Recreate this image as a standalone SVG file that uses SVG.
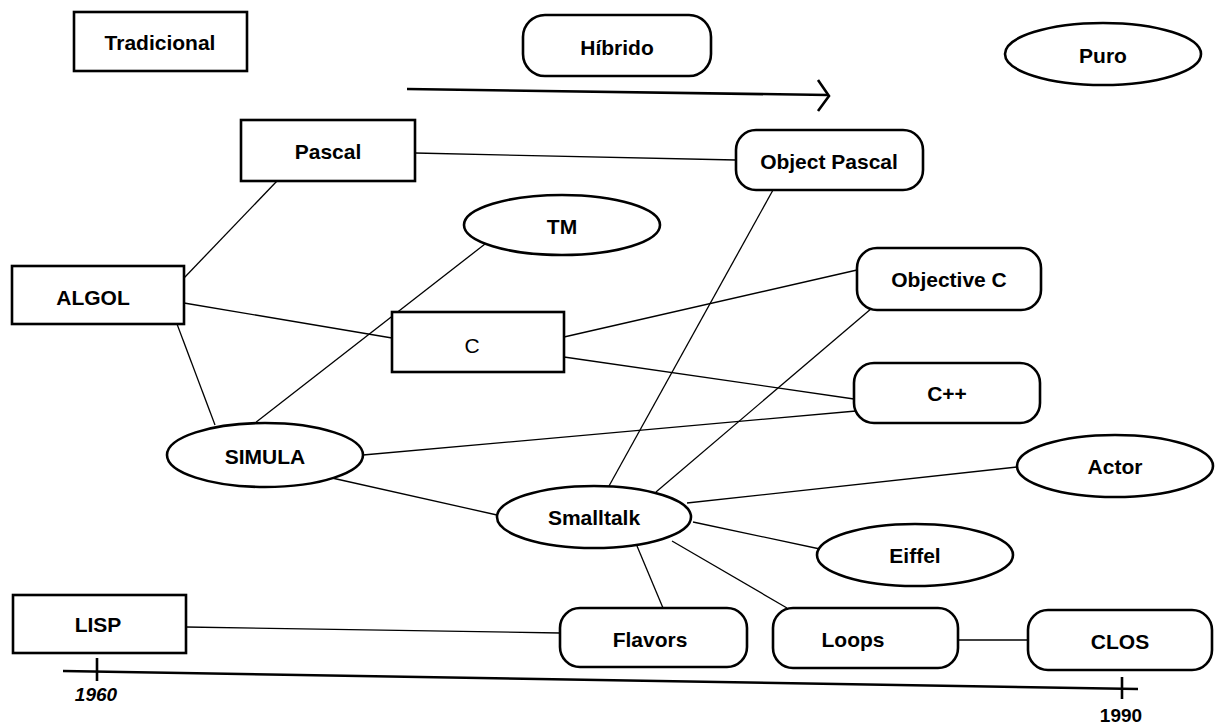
<svg xmlns="http://www.w3.org/2000/svg" width="1221" height="726" viewBox="0 0 1221 726">
  <style>
    .box { fill: #fff; stroke: #000; stroke-width: 2.6; }
    .lnk { fill: none; stroke: #000; stroke-width: 1.3; }
    .axis { fill: none; stroke: #000; stroke-width: 2.6; }
    .lbl { font-family: "Liberation Sans", Arial, sans-serif; font-weight: bold; font-size: 21px; text-anchor: middle; dominant-baseline: central; fill: #000; }
    .lbl.plain { font-weight: normal; }
    .yr { font-family: "Liberation Sans", Arial, sans-serif; font-weight: bold; font-size: 19px; text-anchor: middle; dominant-baseline: central; fill: #000; }
    .yr.it { font-style: italic; }
  </style>
  <rect width="1221" height="726" fill="#fff"/>

  <!-- legend -->
  <g id="legend-tradicional">
    <rect class="box" x="74" y="12" width="173" height="59"/>
    <text class="lbl" x="160" y="42">Tradicional</text>
  </g>
  <g id="legend-hibrido">
    <rect class="box" x="523" y="15" width="188" height="61" rx="22"/>
    <text class="lbl" x="617" y="47">Híbrido</text>
  </g>
  <g id="legend-puro">
    <ellipse class="box" cx="1103" cy="54" rx="98" ry="31"/>
    <text class="lbl" x="1103" y="55">Puro</text>
  </g>
  <g id="legend-arrow">
    <line class="axis" x1="407" y1="89" x2="828" y2="95" stroke-width="2.2"/>
    <polyline class="axis" points="818,80 829,96 818,111" stroke-width="2.4"/>
  </g>

  <!-- connectors -->
  <g id="connectors">
    <line class="lnk" x1="415" y1="153" x2="736" y2="160"/>
    <line class="lnk" x1="277" y1="181" x2="184" y2="278"/>
    <line class="lnk" x1="184" y1="303" x2="392" y2="338"/>
    <line class="lnk" x1="177" y1="324" x2="215" y2="425"/>
    <line class="lnk" x1="255" y1="423" x2="485" y2="244"/>
    <line class="lnk" x1="564" y1="337" x2="857" y2="270"/>
    <line class="lnk" x1="564" y1="357" x2="854" y2="399"/>
    <line class="lnk" x1="363" y1="455" x2="856" y2="411"/>
    <line class="lnk" x1="332" y1="478" x2="497" y2="515"/>
    <line class="lnk" x1="773" y1="190" x2="609" y2="486"/>
    <line class="lnk" x1="872" y1="308" x2="656" y2="492"/>
    <line class="lnk" x1="687" y1="503" x2="1017" y2="467"/>
    <line class="lnk" x1="693" y1="522" x2="820" y2="549"/>
    <line class="lnk" x1="637" y1="546" x2="663" y2="608"/>
    <line class="lnk" x1="672" y1="541" x2="787" y2="608"/>
    <line class="lnk" x1="186" y1="627" x2="560" y2="633"/>
    <line class="lnk" x1="958" y1="640" x2="1028" y2="640"/>
  </g>

  <!-- languages -->
  <g id="node-pascal">
    <rect class="box" x="241" y="120" width="174" height="61"/>
    <text class="lbl" x="328" y="151">Pascal</text>
  </g>
  <g id="node-object-pascal">
    <rect class="box" x="736" y="130" width="187" height="60" rx="20"/>
    <text class="lbl" x="829" y="161">Object Pascal</text>
  </g>
  <g id="node-tm">
    <ellipse class="box" cx="562" cy="225" rx="98" ry="30"/>
    <text class="lbl" x="562" y="226">TM</text>
  </g>
  <g id="node-algol">
    <rect class="box" x="12" y="266" width="172" height="58"/>
    <text class="lbl" x="93" y="297">ALGOL</text>
  </g>
  <g id="node-c">
    <rect class="box" x="392" y="312" width="172" height="60"/>
    <text class="lbl plain" x="472" y="345">C</text>
  </g>
  <g id="node-objective-c">
    <rect class="box" x="857" y="248" width="184" height="62" rx="20"/>
    <text class="lbl" x="949" y="279">Objective C</text>
  </g>
  <g id="node-cpp">
    <rect class="box" x="854" y="363" width="186" height="60" rx="20"/>
    <text class="lbl" x="947" y="393">C++</text>
  </g>
  <g id="node-simula">
    <ellipse class="box" cx="265" cy="455" rx="98" ry="32"/>
    <text class="lbl" x="265" y="456">SIMULA</text>
  </g>
  <g id="node-actor">
    <ellipse class="box" cx="1115" cy="466" rx="98" ry="31"/>
    <text class="lbl" x="1115" y="466">Actor</text>
  </g>
  <g id="node-smalltalk">
    <ellipse class="box" cx="594" cy="517" rx="97" ry="31"/>
    <text class="lbl" x="594" y="517">Smalltalk</text>
  </g>
  <g id="node-eiffel">
    <ellipse class="box" cx="915" cy="555" rx="98" ry="31"/>
    <text class="lbl" x="915" y="555">Eiffel</text>
  </g>
  <g id="node-lisp">
    <rect class="box" x="13" y="595" width="173" height="58"/>
    <text class="lbl" x="98" y="624">LISP</text>
  </g>
  <g id="node-flavors">
    <rect class="box" x="560" y="608" width="187" height="59" rx="20"/>
    <text class="lbl" x="650" y="639">Flavors</text>
  </g>
  <g id="node-loops">
    <rect class="box" x="773" y="608" width="185" height="60" rx="20"/>
    <text class="lbl" x="853" y="639">Loops</text>
  </g>
  <g id="node-clos">
    <rect class="box" x="1028" y="610" width="184" height="60" rx="20"/>
    <text class="lbl" x="1120" y="641">CLOS</text>
  </g>

  <!-- time axis -->
  <g id="timeline">
    <line class="axis" x1="63" y1="671" x2="1138" y2="689"/>
    <line class="axis" x1="97" y1="658" x2="97" y2="681" stroke-width="2.2"/>
    <line class="axis" x1="1122" y1="677" x2="1122" y2="699" stroke-width="2.2"/>
    <text class="yr it" x="96" y="694">1960</text>
    <text class="yr" x="1121" y="715">1990</text>
  </g>
</svg>
